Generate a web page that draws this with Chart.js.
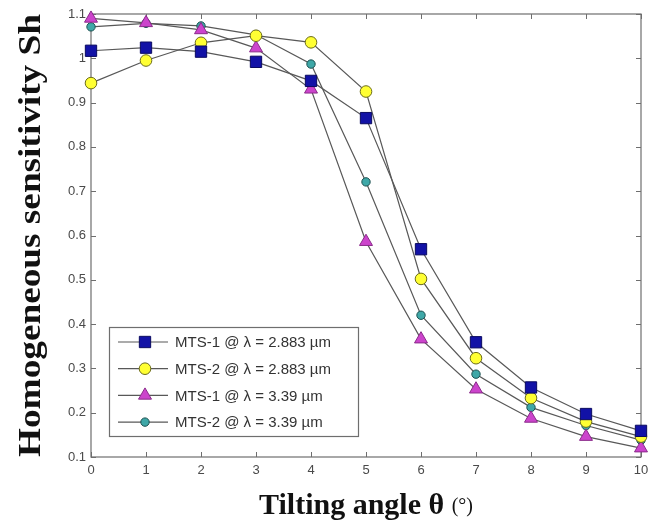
<!DOCTYPE html>
<html>
<head>
<meta charset="utf-8">
<script src="https://cdn.jsdelivr.net/npm/chart.js@4.4.0/dist/chart.umd.min.js"></script>
<style>
  html, body { margin: 0; padding: 0; background: #fff; }
  #wrap { width: 650px; height: 523px; }
</style>
</head>
<body>
<div id="wrap"><canvas id="chart" width="650" height="523"></canvas></div>
<script>
// Tilting angle (deg) on x, homogeneous sensitivity on y
const angles   = [0, 1, 2, 3, 4, 5, 6, 7, 8, 9, 10];
const mts1_2883 = [1.017, 1.024, 1.015, 0.992, 0.949, 0.865, 0.569, 0.359, 0.257, 0.197, 0.159];
const mts2_2883 = [0.944, 0.995, 1.035, 1.051, 1.036, 0.925, 0.502, 0.323, 0.233, 0.180, 0.146];
const mts1_339  = [1.090, 1.080, 1.064, 1.023, 0.930, 0.586, 0.366, 0.253, 0.187, 0.146, 0.120];
const mts2_339  = [1.071, 1.079, 1.073, 1.053, 0.987, 0.721, 0.420, 0.287, 0.212, 0.171, 0.138];

const seriesLabels = [
  'MTS-1 @ λ = 2.883 µm',
  'MTS-2 @ λ = 2.883 µm',
  'MTS-1 @ λ = 3.39 µm',
  'MTS-2 @ λ = 3.39 µm',
];
const xTicks = [0, 1, 2, 3, 4, 5, 6, 7, 8, 9, 10];
const yTicks = [0.1, 0.2, 0.3, 0.4, 0.5, 0.6, 0.7, 0.8, 0.9, 1.0, 1.1];

const xTitle = 'Tilting angle θ';
const xUnit  = '(°)';
const yTitle = 'Homogeneous sensitivity Sh';

const toPoints = arr => angles.map((a, i) => ({ x: a, y: arr[i] }));

const LINE = '#585858';
const AXIS = '#6e6e6e';
const TICK_TXT = '#4a4a4a';

// frame on all four sides + inward tick marks (matlab look)
const framePlugin = {
  id: 'frame',
  beforeDatasetsDraw(chart) {
    const { ctx, chartArea: a, scales } = chart;
    ctx.save();
    ctx.strokeStyle = AXIS;
    ctx.lineWidth = 1.2;
    ctx.strokeRect(a.left, a.top, a.right - a.left, a.bottom - a.top);
    ctx.lineWidth = 1;
    ctx.beginPath();
    xTicks.forEach(v => {
      const px = Math.round(scales.x.getPixelForValue(v)) + 0.5;
      ctx.moveTo(px, a.bottom); ctx.lineTo(px, a.bottom - 5);
      ctx.moveTo(px, a.top);    ctx.lineTo(px, a.top + 5);
    });
    yTicks.forEach(v => {
      const py = Math.round(scales.y.getPixelForValue(v)) + 0.5;
      ctx.moveTo(a.left, py);  ctx.lineTo(a.left + 5, py);
      ctx.moveTo(a.right, py); ctx.lineTo(a.right - 5, py);
    });
    ctx.stroke();
    ctx.restore();
  }
};

// axis titles (serif, bold) drawn by hand so the unit can be lighter
const titlePlugin = {
  id: 'titles',
  afterDraw(chart) {
    const { ctx, chartArea: a } = chart;
    ctx.save();
    ctx.fillStyle = '#111';

    // x title
    const bold = 'bold 30px "Liberation Serif", "Times New Roman", serif';
    const thin = '20px "Liberation Serif", "Times New Roman", serif';
    ctx.font = bold;
    const w1 = ctx.measureText(xTitle + ' ').width;
    ctx.font = thin;
    const w2 = ctx.measureText(xUnit).width;
    const x0 = (a.left + a.right) / 2 - (w1 + w2) / 2;
    ctx.textBaseline = 'alphabetic';
    ctx.textAlign = 'left';
    ctx.font = bold;
    ctx.fillText(xTitle, x0, 514);
    ctx.font = thin;
    ctx.fillText(xUnit, x0 + w1, 512);

    // y title, rotated and stretched along its length
    ctx.font = 'bold 31px "Liberation Serif", "Times New Roman", serif';
    const wy = ctx.measureText(yTitle).width;
    const span = a.bottom - a.top;
    ctx.translate(40, (a.top + a.bottom) / 2);
    ctx.rotate(-Math.PI / 2);
    ctx.scale(span / wy, 1);
    ctx.textAlign = 'center';
    ctx.fillText(yTitle, 0, 0);
    ctx.restore();
  }
};

// legend box inside the plot, lower left
const legendPlugin = {
  id: 'boxLegend',
  afterDatasetsDraw(chart) {
    const { ctx, chartArea: a } = chart;
    const bx = a.left + 18, by = a.bottom - 130, bw = 249, bh = 109;
    ctx.save();
    ctx.fillStyle = '#fff';
    ctx.fillRect(bx, by, bw, bh);
    ctx.strokeStyle = AXIS;
    ctx.lineWidth = 1.2;
    ctx.strokeRect(bx + 0.5, by + 0.5, bw, bh);
    ctx.font = '15px "Liberation Sans", Arial, sans-serif';
    ctx.textBaseline = 'middle';
    chart.data.datasets.forEach((ds, i) => {
      const y = by + 15 + i * 26.7;
      ctx.strokeStyle = LINE;
      ctx.lineWidth = 1.2;
      ctx.beginPath();
      ctx.moveTo(bx + 9, y); ctx.lineTo(bx + 59, y);
      ctx.stroke();
      ctx.fillStyle = ds.pointBackgroundColor;
      ctx.strokeStyle = ds.pointBorderColor;
      ctx.lineWidth = ds.pointBorderWidth;
      Chart.helpers.drawPoint(ctx, {
        pointStyle: ds.pointStyle,
        radius: ds.pointRadius,
        rotation: 0,
        borderWidth: ds.pointBorderWidth,
      }, bx + 36, y);
      ctx.fillStyle = '#333';
      ctx.fillText(ds.label, bx + 66, y + 1);
    });
    ctx.restore();
  }
};

const makeSet = (label, arr, style, radius, fill, edge) => ({
  label,
  data: toPoints(arr),
  borderColor: LINE,
  borderWidth: 1.2,
  pointStyle: style,
  pointRadius: radius,
  pointBackgroundColor: fill,
  pointBorderColor: edge,
  pointBorderWidth: 1,
  tension: 0,
  clip: false,
});

new Chart(document.getElementById('chart').getContext('2d'), {
  type: 'line',
  data: {
    datasets: [
      makeSet(seriesLabels[0], mts1_2883, 'rect',     8,   '#1212a6', '#0a0a60'),
      makeSet(seriesLabels[1], mts2_2883, 'circle',   5.8, '#ffff33', '#6b6b1a'),
      makeSet(seriesLabels[2], mts1_339,  'triangle', 7.5, '#cc44cc', '#8a2a8a'),
      makeSet(seriesLabels[3], mts2_339,  'circle',   4.2, '#3fa8a8', '#1c5050'),
    ],
  },
  options: {
    responsive: false,
    animation: false,
    events: [],
    layout: { padding: { top: 14, right: 9, left: 0, bottom: 0 } },
    plugins: { legend: { display: false }, tooltip: { enabled: false } },
    scales: {
      x: {
        type: 'linear',
        min: 0, max: 10,
        afterBuildTicks: s => { s.ticks = xTicks.map(v => ({ value: v })); },
        afterFit: s => { s.height = 66; s.paddingLeft = 0; s.paddingRight = 0; },
        grid: { display: false, drawTicks: false },
        border: { display: false },
        ticks: {
          padding: 6,
          color: TICK_TXT,
          font: { family: '"Liberation Sans", Arial, sans-serif', size: 13 },
          maxRotation: 0,
          callback: v => String(v),
        },
      },
      y: {
        type: 'linear',
        min: 0.1, max: 1.1,
        afterBuildTicks: s => { s.ticks = yTicks.map(v => ({ value: v })); },
        afterFit: s => { s.width = 91; },
        grid: { display: false, drawTicks: false },
        border: { display: false },
        ticks: {
          padding: 5,
          color: TICK_TXT,
          font: { family: '"Liberation Sans", Arial, sans-serif', size: 13 },
          callback: v => String(Number(v.toFixed(1))),
        },
      },
    },
  },
  plugins: [framePlugin, legendPlugin, titlePlugin],
});
</script>
</body>
</html>
